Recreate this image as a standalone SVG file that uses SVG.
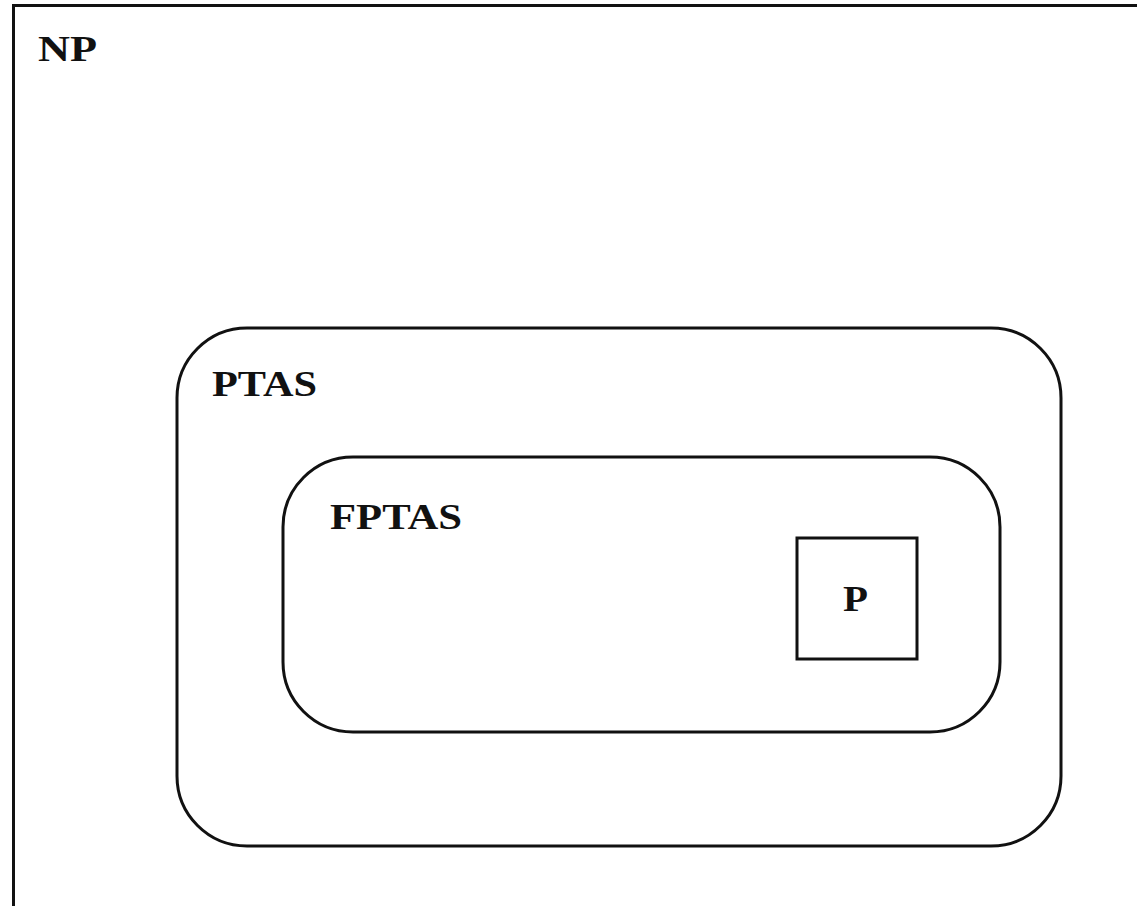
<svg xmlns="http://www.w3.org/2000/svg" width="1137" height="906" viewBox="0 0 1137 906">
<style>
.box{fill:none;stroke:#111;stroke-width:3}
.lbl{font-family:"Liberation Serif","DejaVu Serif",serif;font-weight:bold;font-size:36px;fill:#111}
</style>
<rect width="1137" height="906" fill="#fff"/>
<g id="np">
<rect class="box" x="13.5" y="5.5" width="1140" height="910"/>
<text class="lbl" x="38" y="61" textLength="59" lengthAdjust="spacingAndGlyphs">NP</text>
</g>
<g id="ptas">
<rect class="box" x="177" y="328" width="884" height="518" rx="70" ry="70"/>
<text class="lbl" x="212" y="396" textLength="105" lengthAdjust="spacingAndGlyphs">PTAS</text>
</g>
<g id="fptas">
<rect class="box" x="283" y="457" width="717" height="275" rx="70" ry="70"/>
<text class="lbl" x="330" y="529" textLength="132" lengthAdjust="spacingAndGlyphs">FPTAS</text>
</g>
<g id="p">
<rect class="box" x="797" y="538" width="120" height="121"/>
<text class="lbl" x="843" y="611" textLength="25" lengthAdjust="spacingAndGlyphs">P</text>
</g>
<g id="connectors"></g>
</svg>
